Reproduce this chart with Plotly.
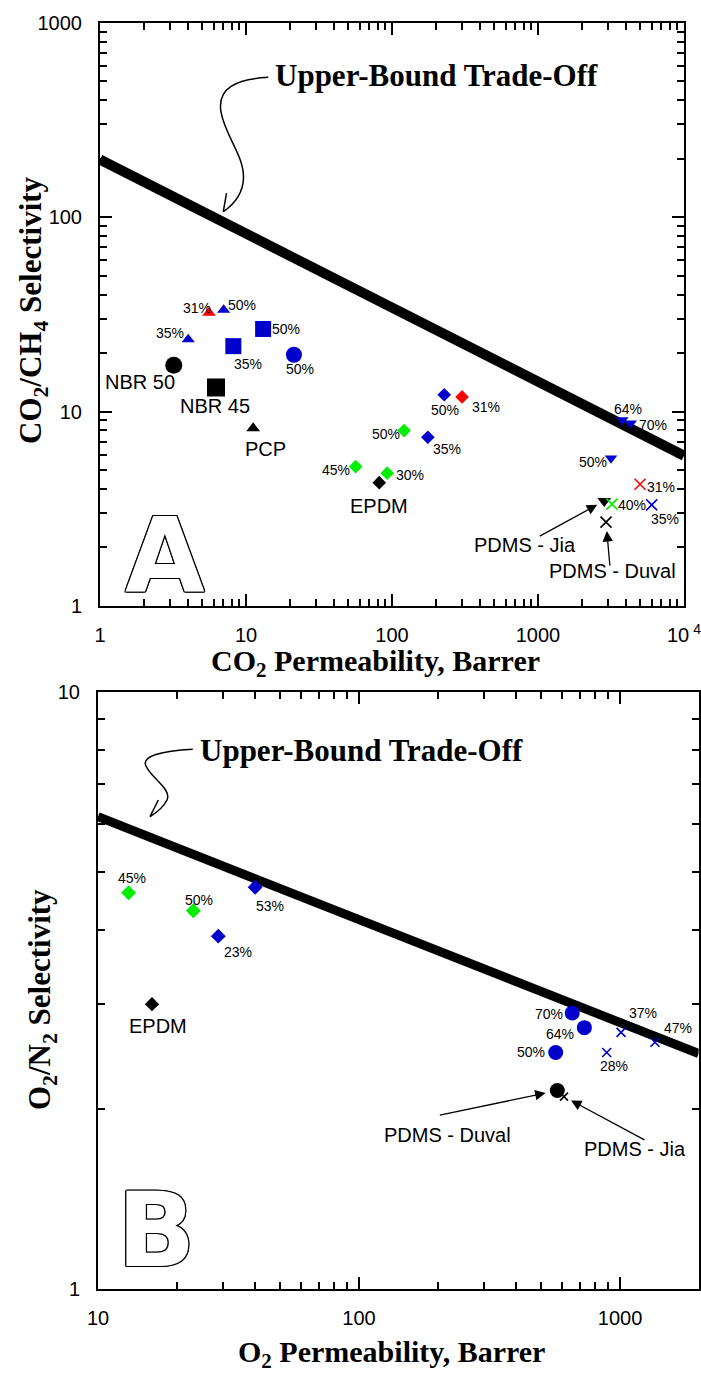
import numpy as np
import plotly.graph_objects as go

# ---------------- DATA ----------------
# Panel A : CO2/CH4
A_UB_PERM = [1, 10000]
A_UB_SEL = [197.7, 5.93]

A_SERIES = ["nbr50", "nbr45", "pcp", "tri_red", "tri_blue", "tri_blue",
            "sq_blue", "sq_blue", "circ_blue", "dia_blue", "dia_blue", "dia_red",
            "dia_green", "dia_green", "dia_green", "dia_black",
            "tdn_blue", "tdn_blue", "tdn_blue", "tdn_black",
            "x_red", "x_green", "x_blue", "x_black"]
A_LABELS = ["NBR 50", "NBR 45", "PCP", "31%", "50%", "35%",
            "50%", "35%", "50%", "50%", "35%", "31%",
            "50%", "45%", "30%", "EPDM",
            "64%", "70%", "50%", "PDMS - Jia",
            "31%", "40%", "35%", "PDMS - Duval"]
A_CO2_PERM = [3.2, 6.23, 11.2, 5.58, 7.03, 4.02,
              13.1, 8.19, 21.3, 228, 176, 302,
              121, 56.4, 92.8, 81.8,
              3780, 4315, 3162, 2844,
              5000, 3213, 6010, 2924]
A_CO2_CH4_SEL = [17.3, 13.3, 8.2, 32.2, 33.3, 23.5,
                 26.6, 21.7, 19.6, 12.2, 7.38, 11.9,
                 7.98, 5.21, 4.82, 4.31,
                 9.05, 8.71, 5.75, 3.47,
                 4.23, 3.34, 3.31, 2.70]

# Panel B : O2/N2
B_UB_PERM = [10, 2000]
B_UB_SEL = [6.18, 2.48]

B_SERIES = ["dia_green", "dia_green", "dia_blue", "dia_blue", "dia_black",
            "circ_blue", "circ_blue", "circ_blue",
            "x_blue", "x_blue", "x_blue", "circ_black", "x_black"]
B_LABELS = ["45%", "50%", "53%", "23%", "EPDM",
            "70%", "64%", "50%",
            "37%", "28%", "47%", "PDMS - Duval", "PDMS - Jia"]
B_O2_PERM = [13.1, 23.2, 40.0, 28.9, 16.1,
             656, 730, 567,
             1009, 889, 1361, 575, 610]
B_O2_N2_SEL = [4.61, 4.30, 4.71, 3.90, 3.00,
               2.90, 2.74, 2.49,
               2.69, 2.49, 2.59, 2.15, 2.10]

A_XTICKS = [1, 10, 100, 1000, 10000]
A_XTICKTEXT = ["1", "10", "100", "1000", "10&#8201;<sup>4</sup>"]
A_YTICKS = [1, 10, 100, 1000]
A_YTICKTEXT = ["1", "10", "100", "1000"]
B_XTICKS = [10, 100, 1000]
B_XTICKTEXT = ["10", "100", "1000"]
B_YTICKS = [1, 10]
B_YTICKTEXT = ["1", "10"]

# ---------------- STYLE / LAYOUT ----------------
W, H = 701, 1374
BLUE, GREEN, RED, BLACK = "#0000CC", "#00EE00", "#FF0000", "#000000"
SANS = "Liberation Sans, Arial, sans-serif"
SERIF = "Liberation Serif, Times New Roman, serif"

STYLE = {
    "nbr50": ("circle", BLACK, 17),
    "nbr45": ("square", BLACK, 18),
    "pcp": ("triangle-up", BLACK, 12),
    "tri_red": ("triangle-up", RED, 12),
    "tri_blue": ("triangle-up", BLUE, 11.5),
    "sq_blue": ("square", BLUE, 16),
    "circ_blue": ("circle", BLUE, 16),
    "circ_black": ("circle", BLACK, 16),
    "dia_blue": ("diamond", BLUE, 10.5),
    "dia_red": ("diamond", RED, 10.5),
    "dia_green": ("diamond", GREEN, 10.5),
    "dia_black": ("diamond", BLACK, 10.5),
    "tdn_blue": ("triangle-down", BLUE, 11),
    "tdn_black": ("triangle-down", BLACK, 12),
    "x_red": ("x-thin-open", RED, 11),
    "x_green": ("x-thin-open", GREEN, 11),
    "x_blue": ("x-thin-open", BLUE, 11),
    "x_black": ("x-thin-open", BLACK, 11),
}
B_SIZE_OVERRIDE = {"dia_green": 11.5, "dia_blue": 11.5, "dia_black": 11,
                   "circ_blue": 15, "circ_black": 15, "x_blue": 9, "x_black": 8}

# label offsets in pixels (dx right, dy down) relative to the point
A_LABEL_OFFSETS = [(-34, 17), (-1, 19), (12, 21), (-12, -5), (18, -5), (-18, -6),
                   (23, 0), (15, 18), (6, 14), (1, 15), (19, 12), (24, 10),
                   (-18, 3), (-20, 3), (23, 2), (0, 23),
                   (6, -11), (22, 2), (-18, 4), (-79, 44),
                   (21, 3), (20, 1), (13, 14), (6, 49)]
B_LABEL_OFFSETS = [(3, -15), (6, -11), (15, 19), (20, 16), (6, 22),
                   (-23, 1), (-24, 6), (-25, 0),
                   (22, -19), (7, 14), (23, -14), (-110, 44), (71, 52)]
# PDMS arrows: (panel, index, ax, ay, standoff)
ARROWS = [("A", 19, -66, 36, 8), ("A", 23, 4, 45, 9),
          ("B", 11, -119, 25, 12), ("B", 12, 82, 44, 8)]

# plot areas in pixels
A_BOX = (100, 684, 22.7, 606)     # left, right, top, bottom
B_BOX = (98, 698.6, 692, 1289)


def px2paper(x, y):
    return x / W, 1 - y / H


def dom(box):
    l, r, t, b = box
    return [l / W, r / W], [1 - b / H, 1 - t / H]


fig = go.Figure()


def add_panel(xa, ya, perm, sel, series, ub_p, ub_s, lw):
    fig.add_trace(go.Scatter(x=ub_p, y=ub_s, mode="lines", xaxis=xa, yaxis=ya,
                             line=dict(color="black", width=lw), hoverinfo="skip"))
    order = []
    for s in series:
        if s not in order:
            order.append(s)
    for key in order:
        idx = [i for i, s in enumerate(series) if s == key]
        sym, col, size = STYLE[key]
        if xa == "x2":
            size = B_SIZE_OVERRIDE.get(key, size)
        marker = dict(symbol=sym, color=col, size=size)
        if "open" in sym:
            marker["line"] = dict(width=1.6, color=col)
        else:
            marker["line"] = dict(width=0)
        fig.add_trace(go.Scatter(x=[perm[i] for i in idx], y=[sel[i] for i in idx],
                                 mode="markers", marker=marker, xaxis=xa, yaxis=ya))


add_panel("x", "y", A_CO2_PERM, A_CO2_CH4_SEL, A_SERIES, A_UB_PERM, A_UB_SEL, 10)
add_panel("x2", "y2", B_O2_PERM, B_O2_N2_SEL, B_SERIES, B_UB_PERM, B_UB_SEL, 9)

annotations = []


def add_labels(xr, yr, perm, sel, labels, offsets):
    for p, s, lab, (dx, dy) in zip(perm, sel, labels, offsets):
        size = 14 if lab.endswith("%") else 20
        annotations.append(dict(x=np.log10(p), y=np.log10(s), xref=xr, yref=yr,
                                text=lab, showarrow=False, xshift=dx, yshift=-dy,
                                font=dict(family=SANS, size=size, color="black")))


add_labels("x", "y", A_CO2_PERM, A_CO2_CH4_SEL, A_LABELS, A_LABEL_OFFSETS)
add_labels("x2", "y2", B_O2_PERM, B_O2_N2_SEL, B_LABELS, B_LABEL_OFFSETS)

for panel, i, ax, ay, so in ARROWS:
    if panel == "A":
        xv, yv, xr, yr = A_CO2_PERM[i], A_CO2_CH4_SEL[i], "x", "y"
    else:
        xv, yv, xr, yr = B_O2_PERM[i], B_O2_N2_SEL[i], "x2", "y2"
    annotations.append(dict(x=np.log10(xv), y=np.log10(yv), xref=xr, yref=yr, text="",
                            showarrow=True, ax=ax, ay=ay, axref="pixel", ayref="pixel",
                            arrowhead=2, arrowsize=1.6, arrowwidth=1.3, arrowcolor="black",
                            standoff=so))


def paper_annot(px, py, text, size, family, angle=0, xanchor="center", bold=False, **kw):
    x, y = px2paper(px, py)
    annotations.append(dict(x=x, y=y, xref="paper", yref="paper", text=text,
                            showarrow=False, textangle=angle, xanchor=xanchor,
                            yanchor="middle",
                            font=dict(family=family, size=size, color=kw.get("color", "black"),
                                      weight="bold" if bold else "normal",
                                      shadow=kw.get("shadow", "none"))))


# Axis titles
paper_annot(375, 663, "CO<sub>2</sub> Permeability, Barrer", 30, SERIF, bold=True)
paper_annot(33, 310, "CO<sub>2</sub>/CH<sub>4</sub> Selectivity", 31, SERIF, angle=-90, bold=True)
paper_annot(391, 1354, "O<sub>2</sub> Permeability, Barrer", 30, SERIF, bold=True)
paper_annot(42, 1000, "O<sub>2</sub>/N<sub>2</sub> Selectivity", 31, SERIF, angle=-90, bold=True)

# Upper bound captions
paper_annot(273, 76, "Upper-Bound Trade-Off", 31, SERIF, xanchor="left", bold=True)
paper_annot(198, 750, "Upper-Bound Trade-Off", 31, SERIF, xanchor="left", bold=True)

# Panel letters (outlined)
OUTLINE = ("1.2px 0 0 #000, -1.2px 0 0 #000, 0 1.2px 0 #000, 0 -1.2px 0 #000, "
           "1px 1px 0 #000, -1px -1px 0 #000, 1px -1px 0 #000, -1px 1px 0 #000")
paper_annot(165, 556, "A", 103, "DejaVu Sans, sans-serif", bold=True, color="white", shadow=OUTLINE)
paper_annot(156, 1230, "B", 103, "DejaVu Sans, sans-serif", bold=True, color="white", shadow=OUTLINE)


# curly arrows (decorative) as paper-coordinate paths
def path_from_px(cmds):
    out = []
    for c, pts in cmds:
        coords = " ".join("%.5f,%.5f" % px2paper(x, y) for x, y in pts)
        out.append(c + " " + coords)
    return " ".join(out)


curl_A = [("M", [(268.3, 77.3)]), ("C", [(236, 79), (217, 88), (221, 112)]),
          ("C", [(225, 136), (244, 155), (243.5, 178)]),
          ("C", [(243, 195), (233, 205), (223.3, 211.7)])]
head_A = [("M", [(226.5, 193)]), ("L", [(223.3, 211.7), (242, 206)])]
curl_B = [("M", [(192.7, 749.3)]), ("C", [(162, 751), (141, 756), (146, 766)]),
          ("C", [(151, 778), (172, 789), (167, 800)]),
          ("C", [(163, 808), (156, 813), (150, 816.7)])]
head_B = [("M", [(158.3, 800)]), ("L", [(150, 816.7), (170, 816.7)])]
shapes = []
for cmds in (curl_A, head_A, curl_B, head_B):
    shapes.append(dict(type="path", xref="paper", yref="paper", path=path_from_px(cmds),
                       line=dict(color="black", width=1.5)))


def minor_vals(lo_exp, hi_exp):
    return [d * 10 ** e for e in range(lo_exp, hi_exp) for d in range(2, 10)]


def axis(domain, rng, tv, tt, minor, anchor, standoff):
    return dict(type="log", domain=domain, range=rng, anchor=anchor,
                tickmode="array", tickvals=tv, ticktext=tt,
                showgrid=False, zeroline=False, showline=True, linecolor="black",
                linewidth=2, mirror="ticks", ticks="inside", ticklen=12, tickwidth=1.5,
                tickcolor="black", ticklabelstandoff=standoff, automargin=False,
                ticklabeloverflow="allow",
                tickfont=dict(family=SANS, size=20, color="black"),
                minor=dict(tickmode="array", tickvals=minor, ticks="inside", ticklen=7,
                           tickwidth=1.5, tickcolor="black", showgrid=False))


axd, ayd = dom(A_BOX)
bxd, byd = dom(B_BOX)

fig.update_layout(
    width=W, height=H, margin=dict(l=0, r=0, t=0, b=0, pad=0),
    paper_bgcolor="white", plot_bgcolor="white", showlegend=False,
    xaxis=axis(axd, [0, 4.0001], A_XTICKS, A_XTICKTEXT, minor_vals(0, 4), "y", 10),
    yaxis=axis(ayd, [0, 3], A_YTICKS, A_YTICKTEXT, minor_vals(0, 3), "x", 12),
    xaxis2=axis(bxd, [1, np.log10(2000)], B_XTICKS, B_XTICKTEXT,
                [v for v in minor_vals(1, 4) if v < 2000], "y2", 10),
    yaxis2=axis(byd, [0, 1], B_YTICKS, B_YTICKTEXT, minor_vals(0, 1), "x2", 12),
    annotations=annotations, shapes=shapes,
)

fig.write_html("out.html", config={"displayModeBar": False},
               post_script="document.body.style.margin='0px';document.body.style.overflow='hidden';")
